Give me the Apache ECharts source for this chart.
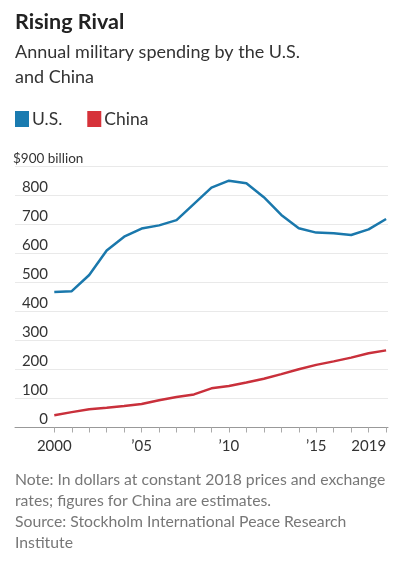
<!DOCTYPE html>
<html>
<head>
<meta charset="utf-8">
<script src="https://cdn.jsdelivr.net/npm/echarts@6/dist/echarts.min.js"></script>
<style>
html,body{margin:0;padding:0;background:#fff;}
#chart{width:401px;height:576px;}
</style>
</head>
<body>
<div id="chart"></div>
<script>
var years = [2000,2001,2002,2003,2004,2005,2006,2007,2008,2009,2010,2011,2012,2013,2014,2015,2016,2017,2018,2019];
var usValues = [467,470,526,610,658,686,697,715,771,827,851,842,794,733,687,672,670,664,683,719];
var chinaValues = [42,53,63,68,74,81,94,105,114,135,143,155,168,184,201,216,228,241,256,266];
var xLabelYears = [2000,2005,2010,2015,2019];

var FONT = 'Lato';
var chart = echarts.init(document.getElementById('chart'), null, {renderer:'canvas'});
function pairs(vals){ return years.map(function(y,i){ return [y, vals[i]]; }); }

chart.setOption({
  animation: false,
  backgroundColor: '#fff',
  textStyle: {fontFamily: FONT},
  title: [
    {text: 'Rising Rival', left: 15, top: 9, padding: 0,
     textStyle: {fontFamily: FONT, fontSize: 21.5, fontWeight: 'bold', color: '#222', lineHeight: 26}},
    {text: 'Annual military spending by the U.S.\nand China', left: 15, top: 40, padding: 0,
     textStyle: {fontFamily: FONT, fontSize: 18, fontWeight: 'normal', color: '#333', lineHeight: 25}},
    {text: 'Note: In dollars at constant 2018 prices and exchange\nrates; figures for China are estimates.\nSource: Stockholm International Peace Research\nInstitute',
     left: 15, top: 469, padding: 0,
     textStyle: {fontFamily: FONT, fontSize: 15.75, fontWeight: 'normal', color: '#777', lineHeight: 21}}
  ],
  legend: {
    left: 15, top: 110, padding: 0,
    icon: 'rect', itemWidth: 14, itemHeight: 16, itemGap: 25,
    textStyle: {fontFamily: FONT, fontSize: 17.5, color: '#333', padding: [0,0,0,-2]},
    data: ['U.S.', 'China']
  },
  grid: {left: 15, right: 13, top: 166.5, bottom: 148.5, containLabel: false},
  xAxis: {
    type: 'value', min: 1997.75, max: 2019.11,
    splitLine: {show: false},
    axisLine: {show: true, lineStyle: {color: '#999', width: 1}},
    axisTick: {show: true, length: 5, lineStyle: {color: '#aaa'}, customValues: years},
    axisLabel: {
      customValues: xLabelYears, margin: 11, fontFamily: FONT, fontSize: 15, color: '#333',
      alignMaxLabel: 'right',
      formatter: function(v){ return (v === 2000 || v === 2019) ? String(v) : '\u2019' + String(v).slice(2); }
    }
  },
  yAxis: {
    type: 'value', min: 0, max: 900, interval: 100,
    axisLine: {show: false}, axisTick: {show: false},
    splitLine: {show: true, lineStyle: {color: '#e9e9e9', width: 1}},
    axisLabel: {
      inside: true, margin: -2, align: 'left', verticalAlign: 'bottom',
      fontFamily: FONT, fontSize: 15, color: '#333', lineHeight: 16,
      formatter: function(v){ return v === 900 ? '{b|$900 billion}' : '{n|' + v + '}'; },
      rich: {
        n: {width: 35, align: 'right', fontFamily: FONT, fontSize: 15, color: '#333', lineHeight: 16},
        b: {fontFamily: FONT, fontSize: 13.5, color: '#333', lineHeight: 16}
      }
    }
  },
  series: [
    {name: 'U.S.', type: 'line', data: pairs(usValues), symbol: 'none',
     lineStyle: {color: '#1a78ac', width: 2.5}, itemStyle: {color: '#1a7bb0'}},
    {name: 'China', type: 'line', data: pairs(chinaValues), symbol: 'none',
     lineStyle: {color: '#c9303b', width: 2.5}, itemStyle: {color: '#d6323a'}}
  ]
});
</script>
</body>
</html>
